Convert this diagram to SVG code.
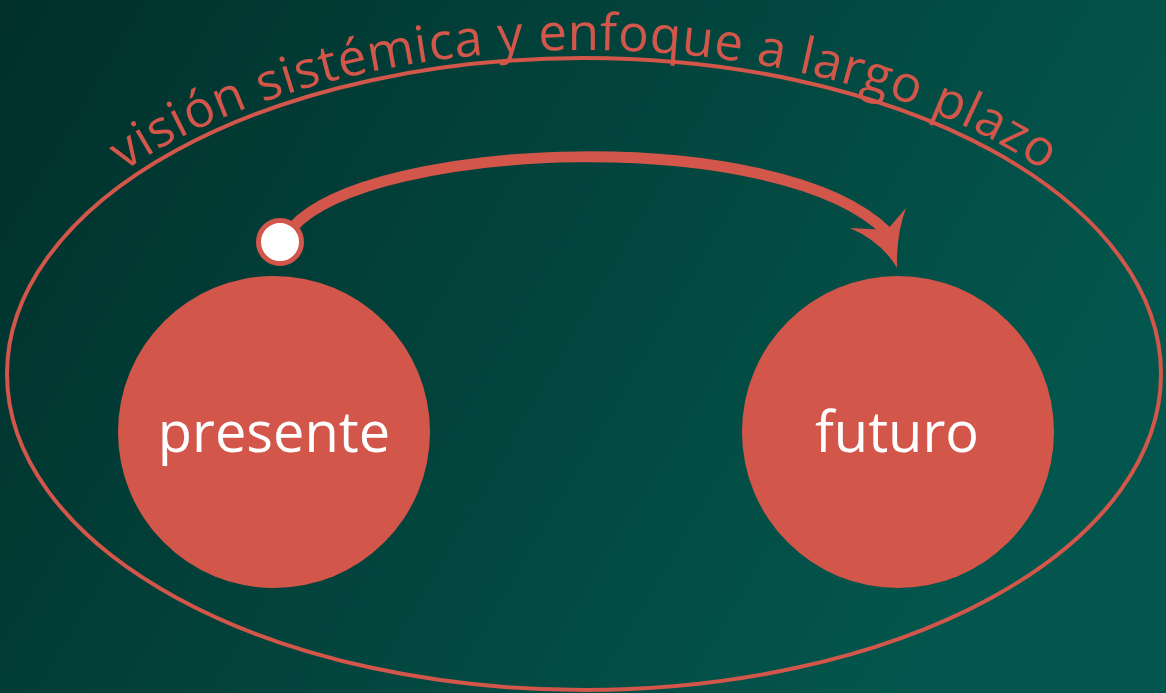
<svg xmlns="http://www.w3.org/2000/svg" width="1166" height="693" viewBox="0 0 1166 693">
  <defs>
    <linearGradient id="bg" x1="0" y1="0" x2="1" y2="0.35">
      <stop offset="0" stop-color="#01302b"/>
      <stop offset="1" stop-color="#03564d"/>
    </linearGradient>
    <path id="arcPath" d="M -6 374 A 590 324 0 0 1 1174 374"/>
    <style>
      .red { fill: #d3564a; }
      .redStroke { stroke: #d3564a; fill: none; }
      .label { font-family: "Open Sans", "Liberation Sans", sans-serif; fill: #ffffff; font-size: 56px; text-anchor: middle; }
      .arcText { font-family: "Open Sans", "Liberation Sans", sans-serif; fill: #d3564a; font-size: 51px; }
    </style>
  </defs>
  <rect x="0" y="0" width="1166" height="693" fill="url(#bg)"/>

  <g id="boundary">
    <ellipse class="redStroke" cx="584" cy="374" rx="577" ry="316" stroke-width="4"/>
    <text class="arcText"><textPath href="#arcPath" startOffset="50%" text-anchor="middle" textLength="965" lengthAdjust="spacing">visión sistémica y enfoque a largo plazo</textPath></text>
  </g>

  <g id="connectors">
    <path class="redStroke" d="M 292 228 C 370 140, 780 125, 887 232" stroke-width="11"/>
    <path class="red" d="M 906 208 Q 896 235 897 268 Q 882 242 850 228 L 887 230 Z"/>
  </g>

  <g id="start-dot">
    <circle cx="280" cy="242" r="21.5" fill="#ffffff" stroke="#d3564a" stroke-width="5"/>
  </g>

  <g id="presente">
    <circle class="red" cx="274" cy="432" r="156"/>
    <text class="label" x="274" y="452">presente</text>
  </g>

  <g id="futuro">
    <circle class="red" cx="898" cy="432" r="156"/>
    <text class="label" x="897" y="452">futuro</text>
  </g>
</svg>
